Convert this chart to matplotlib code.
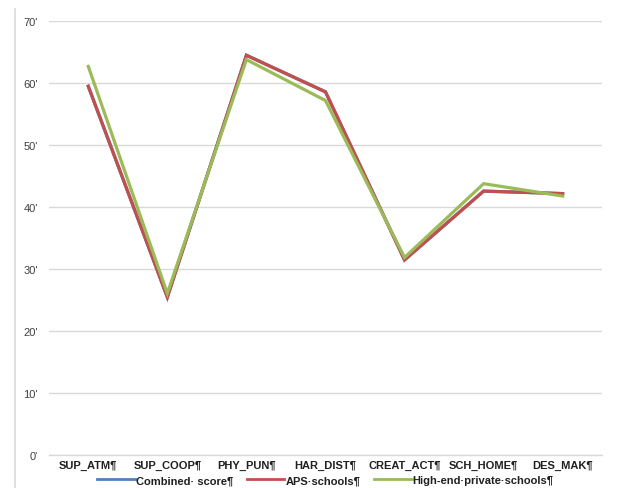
import matplotlib.pyplot as plt
from matplotlib.lines import Line2D

plt.rcParams["font.family"] = ["Liberation Sans", "DejaVu Sans"]

categories = ["SUP_ATM¶", "SUP_COOP¶", "PHY_PUN¶", "HAR_DIST¶", "CREAT_ACT¶", "SCH_HOME¶", "DES_MAK¶"]
combined_score = [59.4, 25.4, 64.4, 58.5, 31.4, 42.5, 42.1]
aps_schools = [59.4, 25.4, 64.4, 58.5, 31.4, 42.5, 42.1]
private_schools = [62.6, 26.0, 63.7, 57.1, 31.8, 43.7, 41.7]
series_names = ["Combined· score¶", "APS·schools¶", "High-end·private·schools¶"]
yticks = [0, 10, 20, 30, 40, 50, 60, 70]

colors = ["#4F81BD", "#C0504D", "#9BBB59"]

fig = plt.figure(figsize=(6.17, 4.89), dpi=100)
ax = fig.add_axes([0.079, 0.068, 0.897, 0.888])

x = range(len(categories))
for vals, name, col in zip([combined_score, aps_schools, private_schools], series_names, colors):
    ax.plot(x, vals, color=col, lw=2.3, label=name, solid_joinstyle="miter")

ax.set_xlim(-0.5, len(categories) - 0.5)
ax.set_ylim(0, 70)
ax.set_yticks(yticks)
ax.set_yticklabels([f"{v}'" for v in yticks], fontsize=8, color="#404040")
ax.set_xticks(list(x))
ax.set_xticklabels(categories, fontsize=8, fontweight="bold", color="#202020")
ax.tick_params(length=0, pad=4)
ax.tick_params(axis="y", pad=8)
ax.grid(axis="y", color="#D9D9D9", lw=1)
ax.axhline(0, color="#D9D9D9", lw=1, clip_on=False, zorder=0)
ax.set_axisbelow(True)
for side in ["top", "right", "left", "bottom"]:
    ax.spines[side].set_visible(False)

leg = ax.legend(loc="upper center", bbox_to_anchor=(0.5, -0.037), ncol=3, frameon=False,
                fontsize=8, handlelength=3.4, handletextpad=0.1, columnspacing=1.2,
                borderaxespad=0)
for t in leg.get_texts():
    t.set_fontweight("bold")
    t.set_color("#202020")
for h in leg.legend_handles:
    h.set_linewidth(2.0)

# thin frame edge on the left
fig.add_artist(Line2D([0.025, 0.025], [0.0, 0.98], transform=fig.transFigure,
                      color="#D9D9D9", lw=1.2))

fig.savefig("out.png", dpi=100)
